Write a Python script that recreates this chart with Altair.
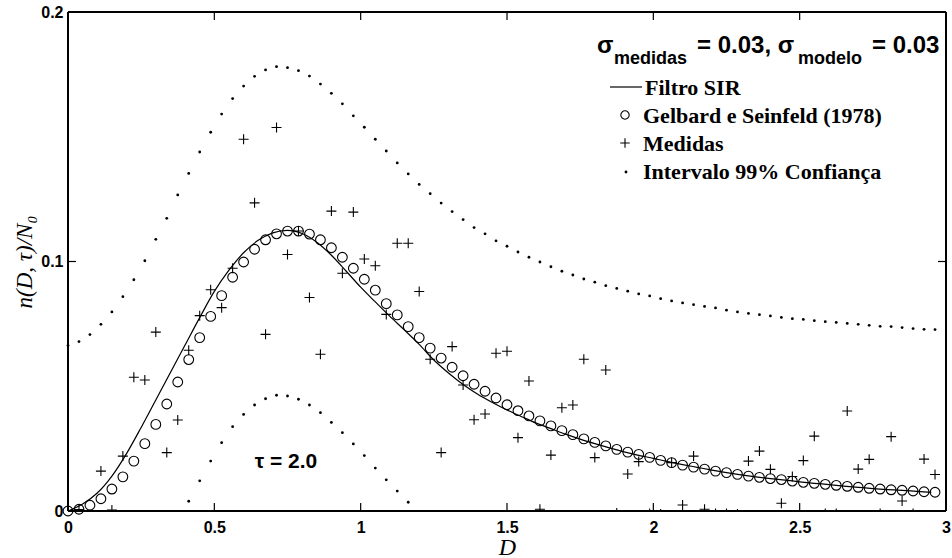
import altair as alt
import pandas as pd

# ---------------- data ----------------
D_GRID = [0.0, 0.0375, 0.075, 0.1125, 0.15, 0.1875, 0.225, 0.2625, 0.3, 0.3375,
          0.375, 0.4125, 0.45, 0.4875, 0.525, 0.5625, 0.6, 0.6375, 0.675, 0.7125,
          0.75, 0.7875, 0.825, 0.8625, 0.9, 0.9375, 0.975, 1.0125, 1.05, 1.0875,
          1.125, 1.1625, 1.2, 1.2375, 1.275, 1.3125, 1.35, 1.3875, 1.425, 1.4625,
          1.5, 1.5375, 1.575, 1.6125, 1.65, 1.6875, 1.725, 1.7625, 1.8, 1.8375,
          1.875, 1.9125, 1.95, 1.9875, 2.025, 2.0625, 2.1, 2.1375, 2.175, 2.2125,
          2.25, 2.2875, 2.325, 2.3625, 2.4, 2.4375, 2.475, 2.5125, 2.55, 2.5875,
          2.625, 2.6625, 2.7, 2.7375, 2.775, 2.8125, 2.85, 2.8875, 2.925, 2.9625]

GELBARD = [0.0, 0.0007, 0.0023, 0.0049, 0.0088, 0.0137, 0.0200, 0.0270, 0.0347, 0.0429,
           0.0517, 0.0607, 0.0695, 0.0780, 0.0863, 0.0937, 0.0998, 0.1049, 0.1087, 0.1111,
           0.1122, 0.1122, 0.1110, 0.1087, 0.1055, 0.1017, 0.0973, 0.0929, 0.0885, 0.0831,
           0.0786, 0.0739, 0.0695, 0.0653, 0.0613, 0.0576, 0.0542, 0.0508, 0.0480, 0.0453,
           0.0426, 0.0402, 0.0381, 0.0361, 0.0341, 0.0322, 0.0306, 0.0289, 0.0275, 0.0261,
           0.0247, 0.0236, 0.0227, 0.0215, 0.0203, 0.0194, 0.0184, 0.0176, 0.0168, 0.0160,
           0.0154, 0.0147, 0.0140, 0.0135, 0.0130, 0.0126, 0.0120, 0.0115, 0.0111, 0.0107,
           0.0103, 0.0099, 0.0095, 0.0091, 0.0088, 0.0085, 0.0083, 0.0080, 0.0077, 0.0075]

MEDIDAS = [0.0, 0.0006, -0.0015, 0.0160, 0.0004, 0.0220, 0.0536, 0.0525, 0.0717, 0.0234,
           0.0365, 0.0644, 0.0783, 0.0887, 0.0815, 0.0973, 0.1490, 0.1235, 0.0708, 0.1537,
           0.1028, 0.1122, 0.0856, 0.0628, 0.1202, 0.0953, 0.1198, 0.1010, 0.0983, 0.0788,
           0.1073, 0.1073, 0.0880, 0.0608, 0.0234, 0.0659, 0.0505, 0.0366, 0.0389, 0.0632,
           0.0640, 0.0294, 0.0521, 0.0007, 0.0224, 0.0414, 0.0425, 0.0608, 0.0214, 0.0565,
           -0.0008, 0.0148, 0.0198, -0.0010, -0.0012, 0.0194, 0.0024, 0.0220, 0.0007, -0.0010,
           -0.0010, -0.0012, 0.0200, 0.0240, 0.0167, 0.0031, 0.0138, 0.0202, 0.0300, -0.0010,
           -0.0010, 0.0401, 0.0168, 0.0207, -0.0010, 0.0298, 0.0040, -0.0010, 0.0208, 0.0146]

UPPER = [0.0663, 0.0679, 0.0707, 0.0748, 0.0798, 0.0859, 0.0927, 0.1003, 0.1089, 0.1173,
         0.1267, 0.1353, 0.1439, 0.1518, 0.1591, 0.1653, 0.1703, 0.1742, 0.1768, 0.1781,
         0.1777, 0.1765, 0.1743, 0.1711, 0.1674, 0.1632, 0.1584, 0.1538, 0.1490, 0.1443,
         0.1395, 0.1351, 0.1309, 0.1272, 0.1234, 0.1200, 0.1168, 0.1136, 0.1111, 0.1083,
         0.1061, 0.1038, 0.1017, 0.0998, 0.0979, 0.0961, 0.0946, 0.0930, 0.0917, 0.0903,
         0.0892, 0.0881, 0.0870, 0.0862, 0.0851, 0.0842, 0.0834, 0.0827, 0.0820, 0.0814,
         0.0805, 0.0798, 0.0792, 0.0787, 0.0782, 0.0776, 0.0771, 0.0768, 0.0763, 0.0759,
         0.0756, 0.0752, 0.0748, 0.0744, 0.0740, 0.0739, 0.0735, 0.0731, 0.0728, 0.0727]

# lower bound of the interval: only the part above zero is visible
LOWER_D = [0.4125, 0.45, 0.4875, 0.525, 0.5625, 0.6, 0.6375, 0.675, 0.7125, 0.75,
           0.7875, 0.825, 0.8625, 0.9, 0.9375, 0.975, 1.0125, 1.05, 1.0875, 1.125, 1.1625]
LOWER = [0.0039, 0.0121, 0.0200, 0.0274, 0.0338, 0.0387, 0.0425, 0.0450, 0.0464, 0.0461,
         0.0448, 0.0425, 0.0394, 0.0355, 0.0314, 0.0269, 0.0222, 0.0172, 0.0125, 0.0080, 0.0035]

SIR_D = [0.0, 0.05, 0.1, 0.15, 0.2, 0.25, 0.3, 0.35, 0.4, 0.45,
         0.5, 0.55, 0.6, 0.65, 0.7, 0.75, 0.8, 0.85, 0.9, 0.95,
         1.0, 1.05, 1.1, 1.15, 1.2, 1.25, 1.3, 1.35, 1.4, 1.45,
         1.5, 1.55, 1.6, 1.65, 1.7, 1.75, 1.8, 1.85, 1.9, 1.95,
         2.0, 2.05, 2.1, 2.15, 2.2, 2.25, 2.3, 2.35, 2.4, 2.45,
         2.5, 2.55, 2.6, 2.65, 2.7, 2.75, 2.8, 2.85, 2.9, 2.95]
SIR = [0.0, 0.0028, 0.0072, 0.0140, 0.0230, 0.0335, 0.0445, 0.0555, 0.0665, 0.0775,
       0.0880, 0.0965, 0.1035, 0.1085, 0.1115, 0.1125, 0.1112, 0.1077, 0.1025, 0.0962,
       0.0897, 0.0838, 0.0780, 0.0725, 0.0668, 0.0605, 0.0553, 0.0507, 0.0468, 0.0435,
       0.0405, 0.0378, 0.0352, 0.0330, 0.0308, 0.0288, 0.0270, 0.0253, 0.0237, 0.0223,
       0.0211, 0.0198, 0.0186, 0.0175, 0.0164, 0.0154, 0.0145, 0.0137, 0.0130, 0.0124,
       0.0117, 0.0111, 0.0106, 0.0100, 0.0095, 0.0090, 0.0086, 0.0083, 0.0079, 0.0075]

X_TICKS = [0, 0.5, 1, 1.5, 2, 2.5, 3]
Y_TICKS = [0, 0.1, 0.2]

LEGEND_LABELS = ["Filtro SIR", "Gelbard e Seinfeld (1978)", "Medidas", "Intervalo 99% Confiança"]
ANNOT = "τ = 2.0"
ANNOT_D, ANNOT_Y = 0.745, 0.0172

# ---------------- layout ----------------
W, H = 878, 499
L, T = 68, 12
PLUS = "M-1,0L1,0M0,-1L0,1"

xs = alt.Scale(domain=[0, 3], nice=False, zero=False)
ys = alt.Scale(domain=[0, 0.2], nice=False, zero=False)

x_axis = alt.Axis(values=X_TICKS, format="~g", ticks=False, domain=False, grid=False,
                  labelFont="Liberation Sans", labelFontWeight="bold", labelFontSize=16,
                  labelColor="black", labelPadding=8, labelFlush=False, labelOverlap=False,
                  title="D", titleFont="Liberation Serif", titleFontStyle="italic",
                  titleFontWeight="normal", titleFontSize=24, titleColor="black",
                  titleY=36, titleBaseline="middle")
y_axis = alt.Axis(values=Y_TICKS, format="~g", ticks=False, domain=False, grid=False,
                  labelFont="Liberation Sans", labelFontWeight="bold", labelFontSize=16,
                  labelColor="black", labelPadding=5, labelFlush=False, labelOverlap=False,
                  title="n(D, τ)/N₀", titleFont="Liberation Serif", titleFontStyle="italic",
                  titleFontWeight="normal", titleFontSize=23, titleColor="black",
                  titleX=-44, titleY=H / 2, titleBaseline="middle", titleAlign="center")


def X(field):
    return alt.X(field, scale=xs, axis=x_axis)


def Y(field):
    return alt.Y(field, scale=ys, axis=y_axis)


grid_df = pd.DataFrame({"D": D_GRID, "gel": GELBARD, "med": MEDIDAS, "up": UPPER})
low_df = pd.DataFrame({"D": LOWER_D, "low": LOWER})
sir_df = pd.DataFrame({"D": SIR_D, "sir": SIR})
xt_df = pd.DataFrame({"v": X_TICKS})
yt_df = pd.DataFrame({"v": Y_TICKS})
one = pd.DataFrame({"a": [0]})

upper = alt.Chart(grid_df).mark_circle(size=8, color="black", opacity=1).encode(
    x=X("D:Q"), y=Y("up:Q"))
lower = alt.Chart(low_df).mark_circle(size=8, color="black", opacity=1).encode(
    x=X("D:Q"), y=Y("low:Q"))
line = alt.Chart(sir_df).mark_line(color="black", strokeWidth=1.2, interpolate="monotone").encode(
    x=X("D:Q"), y=Y("sir:Q"))
circles = alt.Chart(grid_df).mark_point(shape="circle", filled=False, size=95, color="black",
                                        strokeWidth=1.1, opacity=1).encode(
    x=X("D:Q"), y=Y("gel:Q"))
pluses = alt.Chart(grid_df).mark_point(shape=PLUS, filled=False, size=100, color="black",
                                       strokeWidth=1.1, opacity=1, clip=True).encode(
    x=X("D:Q"), y=Y("med:Q"))

# inward ticks on all four sides
tick_style = dict(color="black", strokeWidth=1.2)
tb = alt.Chart(xt_df).mark_rule(**tick_style).encode(
    x=X("v:Q"), y=alt.value(H), y2=alt.value(H - 8))
tt = alt.Chart(xt_df).mark_rule(**tick_style).encode(
    x=X("v:Q"), y=alt.value(0), y2=alt.value(8))
tl = alt.Chart(yt_df).mark_rule(**tick_style).encode(
    y=Y("v:Q"), x=alt.value(0), x2=alt.value(8))
tr = alt.Chart(yt_df).mark_rule(**tick_style).encode(
    y=Y("v:Q"), x=alt.value(W), x2=alt.value(W - 8))

# frame (box) around the plot area
frame_style = dict(color="black", strokeWidth=2)
f_top = alt.Chart(one).mark_rule(**frame_style).encode(x=alt.value(0), x2=alt.value(W), y=alt.value(0))
f_bot = alt.Chart(one).mark_rule(**frame_style).encode(x=alt.value(0), x2=alt.value(W), y=alt.value(H))
f_left = alt.Chart(one).mark_rule(**frame_style).encode(y=alt.value(0), y2=alt.value(H), x=alt.value(0))
f_right = alt.Chart(one).mark_rule(**frame_style).encode(y=alt.value(0), y2=alt.value(H), x=alt.value(W))

annot = alt.Chart(pd.DataFrame({"D": [ANNOT_D], "y": [ANNOT_Y], "t": [ANNOT]})).mark_text(
    font="Liberation Sans", fontWeight="bold", fontSize=21, align="center",
    baseline="alphabetic", color="black").encode(
    x=X("D:Q"), y=Y("y:Q"), text="t:N")


# ---------------- legend (manual) ----------------
def txt(s, px, py, size, font="Liberation Sans", weight="bold"):
    return alt.Chart(one).mark_text(font=font, fontWeight=weight, fontSize=size, align="left",
                                    baseline="alphabetic", color="black").encode(
        x=alt.value(px - L), y=alt.value(py - T), text=alt.value(s))


title_parts = [
    txt("σ", 597, 53, 24),
    txt("medidas", 614, 64, 18),
    txt("= 0.03, σ", 697, 53, 24),
    txt("modelo", 798, 64, 18),
    txt("= 0.03", 872, 53, 24),
]
entries = [
    txt(LEGEND_LABELS[0], 645, 95, 22, font="Liberation Serif"),
    txt(LEGEND_LABELS[1], 643, 123, 22, font="Liberation Serif"),
    txt(LEGEND_LABELS[2], 643, 151, 22, font="Liberation Serif"),
    txt(LEGEND_LABELS[3], 643, 179, 22, font="Liberation Serif"),
]
leg_line = alt.Chart(one).mark_rule(color="black", strokeWidth=1.2).encode(
    x=alt.value(610 - L), x2=alt.value(642 - L), y=alt.value(87 - T))
leg_circ = alt.Chart(one).mark_point(shape="circle", filled=False, size=70, color="black",
                                     strokeWidth=1.1, opacity=1).encode(
    x=alt.value(625 - L), y=alt.value(115 - T))
leg_plus = alt.Chart(one).mark_point(shape=PLUS, filled=False, size=90, color="black",
                                     strokeWidth=1.1, opacity=1).encode(
    x=alt.value(625 - L), y=alt.value(143 - T))
leg_dot = alt.Chart(one).mark_circle(size=8, color="black", opacity=1).encode(
    x=alt.value(626 - L), y=alt.value(172 - T))

chart = alt.layer(
    upper, lower, line, circles, pluses, tb, tt, tl, tr, f_top, f_bot, f_left, f_right, annot,
    *title_parts, *entries, leg_line, leg_circ, leg_plus, leg_dot,
).properties(
    width=W, height=H,
    autosize=alt.AutoSizeParams(type="none"),
    padding={"left": L, "top": T, "right": 952 - L - W, "bottom": 558 - T - H},
    background="white",
).configure_view(stroke=None)

chart.save("out.html", embed_options={"renderer": "svg", "actions": False})
